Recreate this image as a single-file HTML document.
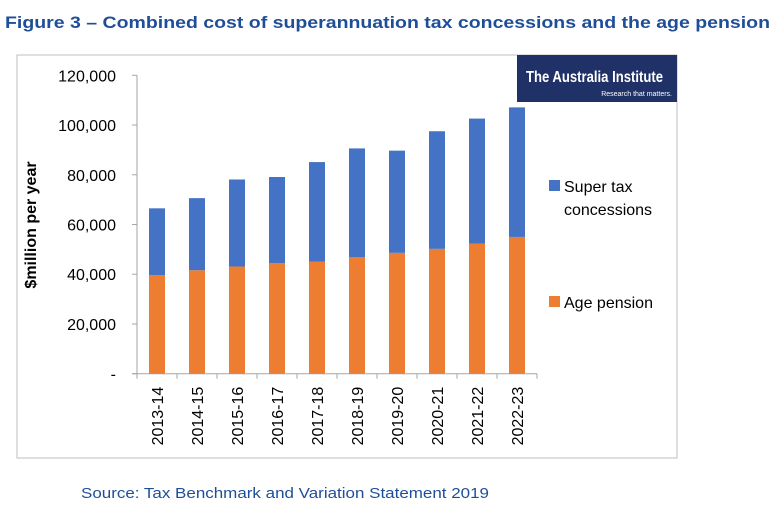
<!DOCTYPE html>
<html><head><meta charset="utf-8"><style>
body{margin:0;background:#fff;width:782px;height:507px;overflow:hidden;font-family:"Liberation Sans",sans-serif}
</style></head><body>
<svg width="782" height="507" xmlns="http://www.w3.org/2000/svg">
<text x="5" y="28" font-size="17" font-weight="bold" fill="#1F4E99" textLength="765" lengthAdjust="spacingAndGlyphs">Figure 3 – Combined cost of superannuation tax concessions and the age pension</text>
<rect x="17" y="55" width="660" height="403" fill="#fff" stroke="#bfbfbf" stroke-width="1"/>
<g>
<rect x="517" y="55" width="160" height="47" fill="#1F3166"/>
<text x="526" y="82" font-size="16" fill="#fff" font-weight="bold" textLength="137" lengthAdjust="spacingAndGlyphs">The Australia Institute</text>
<text x="672" y="96" font-size="7" fill="#fff" text-anchor="end">Research that matters.</text>
</g>
<g id="axes"></g>
<g id="bars"></g>
<text transform="translate(36,225) rotate(-90)" text-anchor="middle" font-size="16" font-weight="bold" fill="#000">$million per year</text>
<g>
<rect x="549" y="180" width="11" height="11" fill="#4472C4"/>
<text x="564" y="192" font-size="16" fill="#000">Super tax</text>
<text x="564" y="215" font-size="16" fill="#000">concessions</text>
<rect x="549" y="296" width="11" height="11" fill="#ED7D31"/>
<text x="564" y="308" font-size="16" fill="#000">Age pension</text>
</g>
<text x="81" y="498" font-size="15" fill="#1F4E99" textLength="408" lengthAdjust="spacingAndGlyphs">Source: Tax Benchmark and Variation Statement 2019</text>
</svg>
<script>
const categories=["2013-14","2014-15","2015-16","2016-17","2017-18","2018-19","2019-20","2020-21","2021-22","2022-23"];
const agePension=[39600,41600,43100,44500,45100,46800,48600,50200,52300,55000];
const superTax=[26900,29000,35000,34600,40000,43800,41100,47300,50300,52100];
const yTicks=[0,20000,40000,60000,80000,100000,120000];
const yTickLabels=["-","20,000","40,000","60,000","80,000","100,000","120,000"];
const NS="http://www.w3.org/2000/svg";
const x0=137,x1=537,yBase=373.7,yTop=75.3,yMax=120000;
const band=(x1-x0)/categories.length,bw=16;
function yS(v){return yBase-(v/yMax)*(yBase-yTop);}
function xC(i){return x0+band*(i+0.5);}
function mk(t,a,p){const e=document.createElementNS(NS,t);for(const k in a)e.setAttribute(k,a[k]);p.appendChild(e);return e;}
const ax=document.getElementById('axes'),bars=document.getElementById('bars');
const yl=mk('line',{x1:x0,y1:yTop,x2:x0,y2:yBase,stroke:'#a6a6a6'},ax);


yTicks.forEach((v,i)=>{
 mk('line',{x1:x0-5,y1:yS(v),x2:x0,y2:yS(v),stroke:'#a6a6a6'},ax);
 const t=mk('text',{x:116,y:yS(v)+6,'text-anchor':'end','font-size':16,fill:'#000'},ax);
 t.textContent=yTickLabels[i];
 
 
});
const xl=mk('line',{x1:x0-5,y1:yBase,x2:x1,y2:yBase,stroke:'#a6a6a6'},ax);


for(let i=0;i<=categories.length;i++){mk('line',{x1:x0+band*i,y1:yBase,x2:x0+band*i,y2:yBase+5,stroke:'#a6a6a6'},ax);}
categories.forEach((c,i)=>{
 const t=mk('text',{transform:`translate(${xC(i)+6},${yBase+13}) rotate(-90)`,'text-anchor':'end','font-size':16,fill:'#000'},ax);
 t.textContent=c;
 
 
 const a=agePension[i],s=superTax[i];
 const r1=mk('rect',{x:xC(i)-bw/2,y:yS(a),width:bw,height:yBase-yS(a),fill:'#ED7D31'},bars);
 
 
 const r2=mk('rect',{x:xC(i)-bw/2,y:yS(a+s),width:bw,height:yS(a)-yS(a+s),fill:'#4472C4'},bars);
 
 
});
</script>
</body></html>
